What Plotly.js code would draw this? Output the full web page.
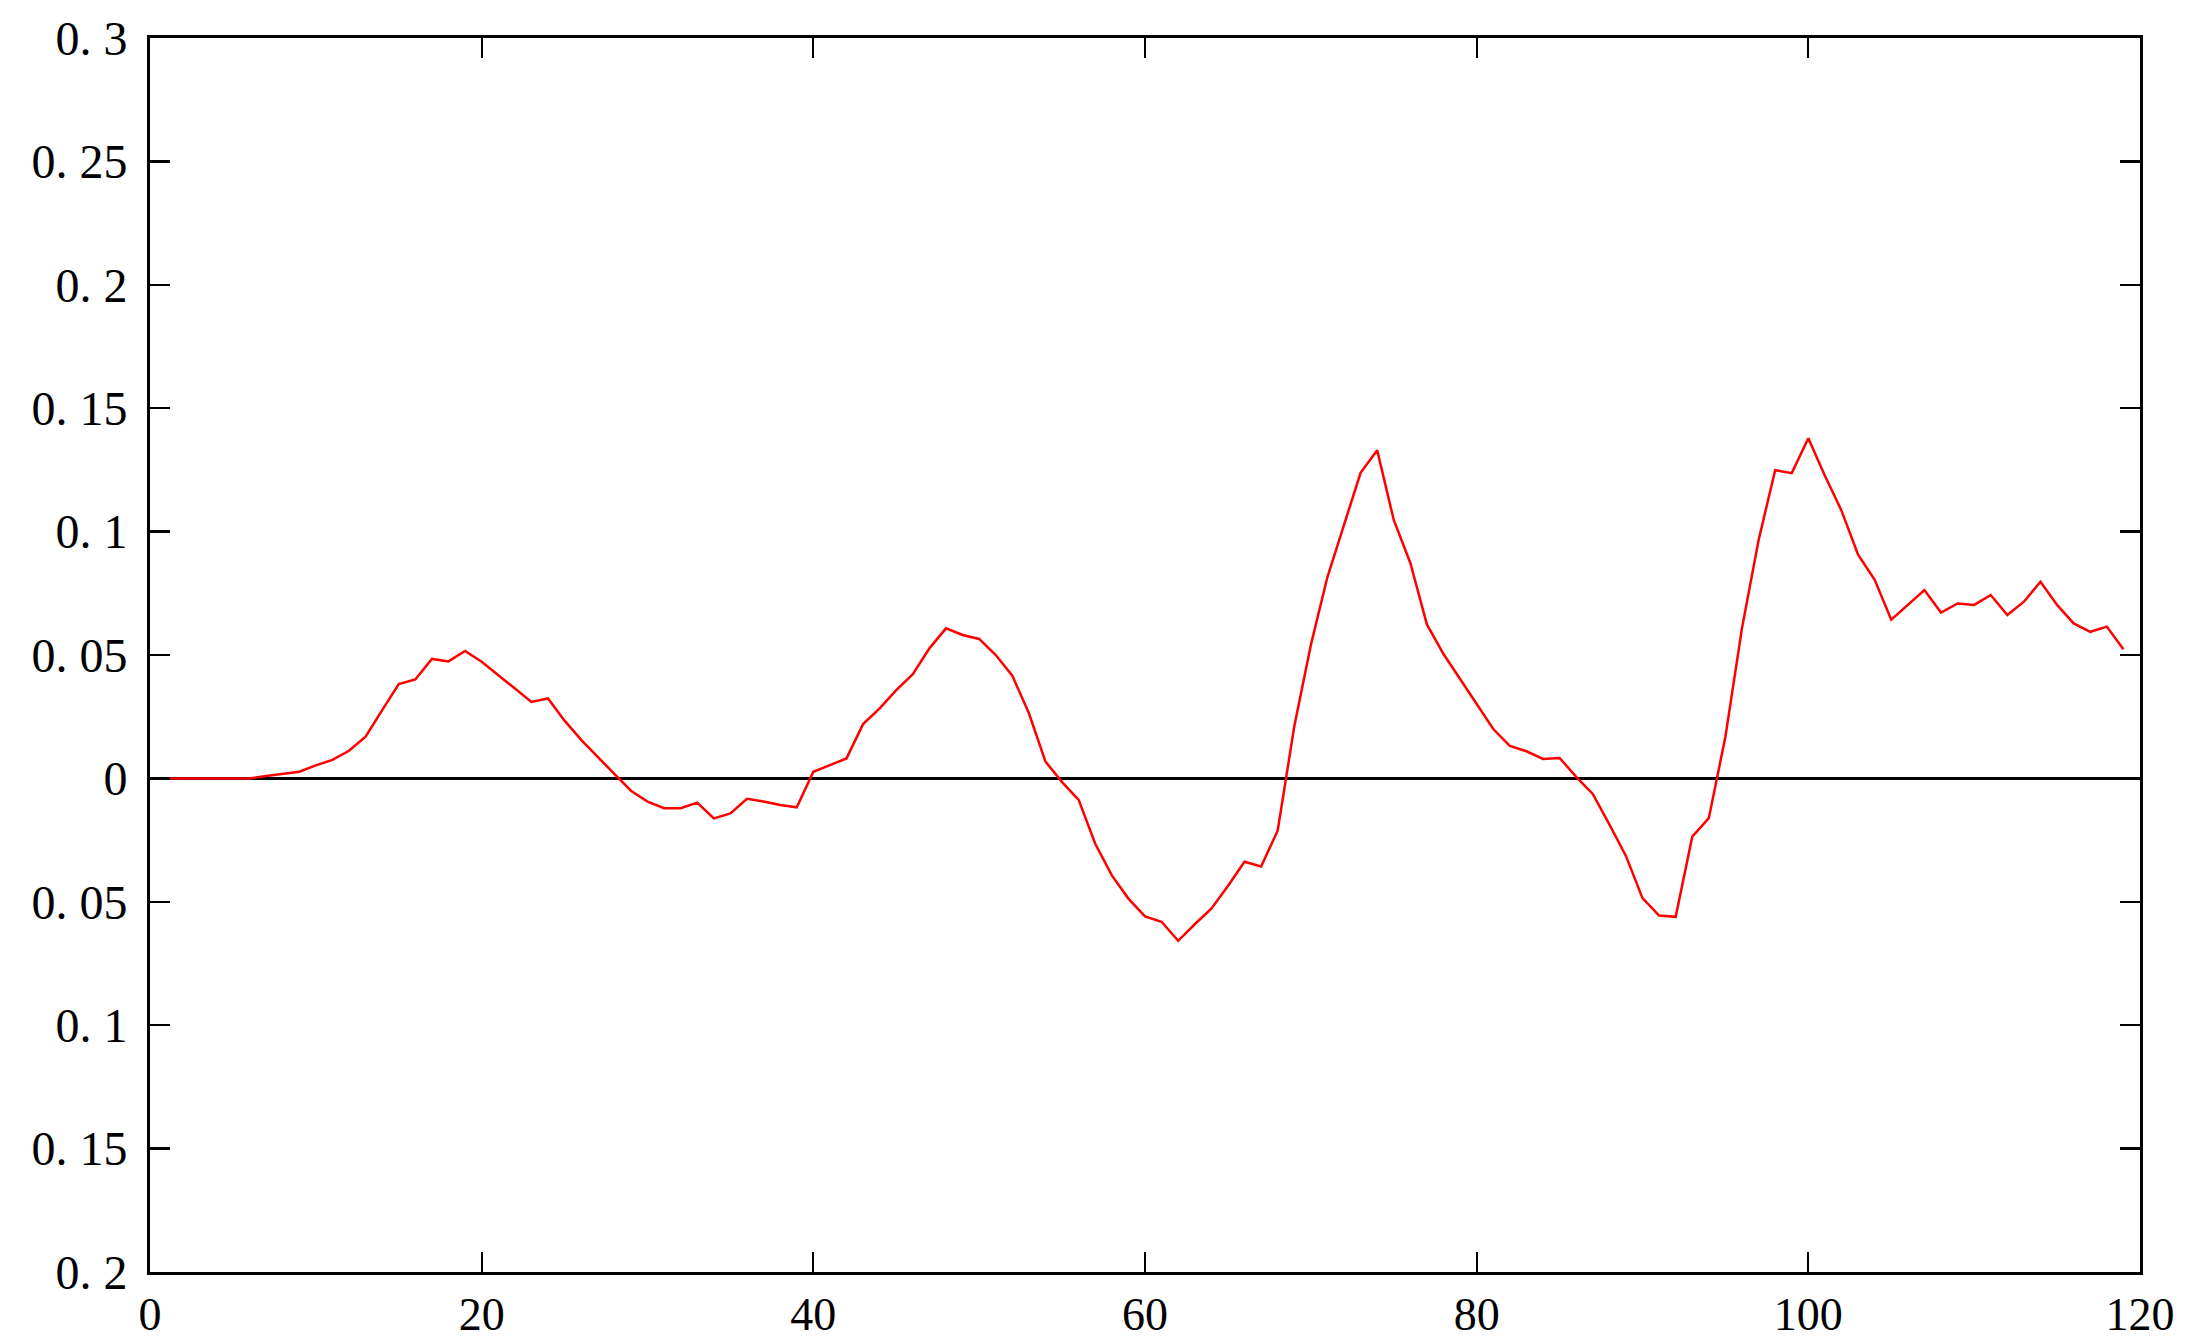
<!DOCTYPE html>
<html>
<head>
<meta charset="utf-8">
<script src="https://cdn.plot.ly/plotly-3.0.1.min.js"></script>
<style>
  body { margin: 0; background: #fff; }
  #chart { width: 2193px; height: 1344px; }
</style>
</head>
<body>
<div id="chart"></div>
<script>

var steps = [1,2,3,4,5,6,7,8,9,10,11,12,13,14,15,16,17,18,19,20,
    21,22,23,24,25,26,27,28,29,30,31,32,33,34,35,36,37,38,39,40,
    41,42,43,44,45,46,47,48,49,50,51,52,53,54,55,56,57,58,59,60,
    61,62,63,64,65,66,67,68,69,70,71,72,73,74,75,76,77,78,79,80,
    81,82,83,84,85,86,87,88,89,90,91,92,93,94,95,96,97,98,99,100,
    101,102,103,104,105,106,107,108,109,110,111,112,113,114,115,116,117,118,119];

var response = [0,0,0,0,0,0,0.001,0.0018,0.0027,0.0053,
    0.0075,0.0112,0.0169,0.0277,0.0382,0.0401,0.0484,0.0474,0.0516,0.0473,
    0.0419,0.0365,0.031,0.0324,0.0234,0.0156,0.0085,0.0018,-0.005,-0.0094,
    -0.0121,-0.0121,-0.0098,-0.0162,-0.0142,-0.0083,-0.0094,-0.0108,-0.0117,0.0027,
    0.0054,0.0081,0.022,0.0284,0.0358,0.0422,0.0527,0.0608,0.0581,0.0565,
    0.05,0.0416,0.0264,0.0068,-0.0015,-0.0087,-0.0265,-0.0393,-0.0487,-0.0559,
    -0.0581,-0.0658,-0.0591,-0.0528,-0.0436,-0.0338,-0.0357,-0.0212,0.021,0.054,
    0.0816,0.1032,0.1238,0.133,0.1047,0.0873,0.0624,0.0504,0.0403,0.0302,
    0.02,0.0132,0.011,0.0079,0.0083,0.0006,-0.0063,-0.0186,-0.0314,-0.0485,
    -0.0556,-0.0561,-0.0236,-0.0161,0.0169,0.0609,0.0965,0.1249,0.1237,0.1378,
    0.1226,0.1085,0.0906,0.0805,0.0643,0.0703,0.0763,0.0672,0.0709,0.0703,
    0.0743,0.0662,0.0716,0.0797,0.0703,0.0628,0.0594,0.0615,0.0523];

var xTicks = [0,20,40,60,80,100,120];
var xLabels = ['0','20','40','60','80','100','120'];

// the original labels lose the minus sign, kept as drawn
var yTicks = [0.3,0.25,0.2,0.15,0.1,0.05,0,-0.05,-0.1,-0.15,-0.2];
var yLabels = ['0. 3','0. 25','0. 2','0. 15','0. 1','0. 05','0','0. 05','0. 1','0. 15','0. 2'];

var trace = {
    x: steps,
    y: response,
    mode: 'lines',
    type: 'scatter',
    line: {color: 'rgb(255,0,0)', width: 2.5},
    hoverinfo: 'none'
};

var axisFont = {family: 'Liberation Serif, serif', size: 48, color: '#000'};

var layout = {
    width: 2193,
    height: 1344,
    margin: {l: 150, r: 53, t: 38, b: 72},
    paper_bgcolor: '#fff',
    plot_bgcolor: '#fff',
    showlegend: false,
    xaxis: {
        range: [0, 120],
        tickvals: xTicks,
        ticktext: xLabels,
        ticks: 'inside',
        ticklen: 20,
        tickwidth: 2,
        tickcolor: '#000',
        showline: true,
        linecolor: '#000',
        linewidth: 3,
        mirror: 'ticks',
        showgrid: false,
        zeroline: false,
        tickfont: {family: 'Liberation Serif, serif', size: 46, color: '#000'},
        ticklabelstandoff: 0
    },
    yaxis: {
        range: [-0.2, 0.3],
        tickvals: yTicks,
        ticktext: yLabels,
        ticks: 'inside',
        ticklen: 20,
        tickwidth: 2.5,
        tickcolor: '#000',
        showline: true,
        linecolor: '#000',
        linewidth: 3,
        mirror: 'ticks',
        showgrid: false,
        zeroline: true,
        zerolinecolor: '#000',
        zerolinewidth: 2.5,
        tickfont: axisFont,
        ticklabelstandoff: 10
    }
};

Plotly.newPlot('chart', [trace], layout, {staticPlot: true});
</script>
</body>
</html>
